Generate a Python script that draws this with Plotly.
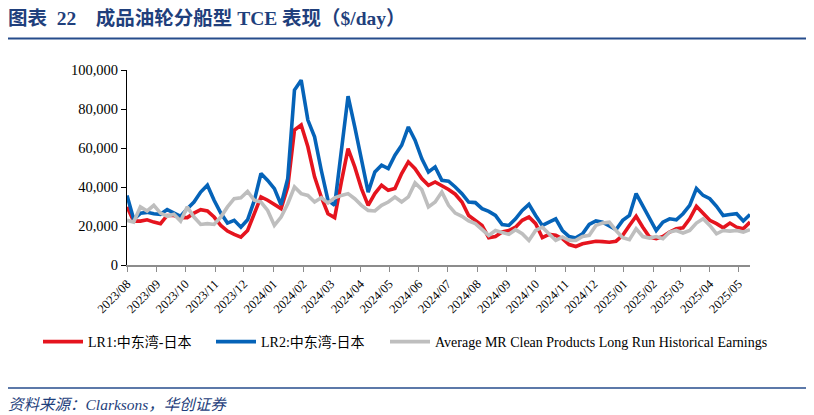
import pandas as pd
import plotly.graph_objects as go

# weekly TCE, $/day (thousands)
dates = pd.date_range("2023-08-01", periods=94, freq="7D")

lr1 = [29.8, 22.5, 22.5, 23.2, 22, 21.2, 25.4, 25.4, 24.3, 24.3, 26.6, 28.4, 27.7, 24.6, 20.3, 17.4,
       15.7, 14.3, 17.7, 26.3, 34.9, 33.2, 31.1,
       28.9, 40, 69.2, 71.8, 60.6, 45.2, 34.9, 26.3, 24.3, 42.6, 59.7, 50.3, 39.2, 30.6, 36.6, 40.9,
       38.3, 39.2, 46.9, 52.9, 49.4, 44.3, 40.9,
       42.6, 40.9, 38.7, 36.3, 32.3, 25.4, 22.9, 20.3, 14, 14.6, 16.9, 17.7, 19.4, 22.9, 24.6, 21.2,
       14, 15.7, 15.2, 13.5, 10.5, 9.5, 10.9, 11.7,
       12.2, 12, 11.7, 12.2, 15.2, 20.3, 25, 19.4, 14.3, 13.5, 14.6, 16.9, 18.6, 19.1, 23.7, 30.1,
       26.3, 22.9, 21.2, 19.1, 21.5, 19.4, 18.6, 22]

lr2 = [35.7, 23.5, 26.5, 27, 26.3, 26, 28.4, 26.6, 25, 28.9, 32.3, 37.4, 40.9, 33.2, 26.6, 21.5,
       22.9, 19.4, 23.2, 33, 46.9, 43.4, 39.2,
       30.9, 44.4, 89.7, 94.8, 74.3, 65.7, 48.6, 33.2, 30.6, 57.2, 86.6, 70.8, 53.7, 37.4, 47.7, 51.2,
       49.4, 56.3, 61.4, 70.8, 64, 54.6, 47.7,
       50.3, 43.4, 43, 40, 36.6, 32.3, 32, 28.9, 27.5, 25.4, 20.7, 20.3, 23.7, 28, 31.1, 25.4,
       20.3, 22, 23.7, 17.7, 14.6, 13.9, 16, 20.8,
       22.6, 22, 20.3, 18.1, 22.9, 25.4, 36.6, 30.6, 23.7, 17.7, 22, 23.7, 23.2, 26.3, 30.6, 39.2,
       35.7, 34, 30.1, 25.4, 25.9, 26.3, 22.6, 25.9]

avg_mr = [22.9, 22, 29.8, 27.7, 30.6, 26.6, 25, 26, 22.5, 29.8, 24.6, 20.8, 21.2, 20.8, 24.6, 29.8,
          34, 34.5, 37.7, 33.2, 32.3, 28, 20.3,
          24.6, 31.4, 40, 36.6, 35.7, 32.3, 34.5, 31.8, 34.5, 35.7, 36.6, 34, 30.6, 28, 27.7, 30.6,
          32.3, 34.9, 32.3, 34.9, 42.1, 38.7, 29.8,
          32.3, 37.4, 30.6, 26.6, 25, 22.6, 21.2, 18.1, 15.2, 17.7, 16.9, 15.7, 18.1, 16, 12.6, 17.7,
          19.4, 15.7, 12.6, 14.3, 12.6, 12.6, 14.6, 15.2,
          20.3, 21.5, 22, 17.7, 14, 13, 18.6, 14.6, 13.8, 14.6, 13.5, 16.9, 17.7, 16.4, 17.7, 21.5,
          23.7, 20.3, 16, 17.7, 17.4, 17.7, 16.9, 18.1]

names = ["LR1:中东湾-日本", "LR2:中东湾-日本",
         "Average MR Clean Products Long Run Historical Earnings"]
colors = ["#E5141E", "#0563B8", "#BEBEBE"]
y_ticks = [0, 20000, 40000, 60000, 80000, 100000]

FONT = "Liberation Serif, Noto Sans CJK SC, serif"
NAVY = "#1F3F7C"

# the page body adds an 8px offset, so the figure is 806x407 and all
# positions below are given in window pixels
OFF = 8


def px_x(p):
    # plot area: window x 127..750
    return (p - 127) / 623


def px_y(p):
    # plot area: window y 70..265
    return (265 - p) / 195


fig = go.Figure()
legend_ids = ["legend", "legend2", "legend3"]
for name, vals, col, lg in zip(names, [lr1, lr2, avg_mr], colors, legend_ids):
    fig.add_trace(go.Scatter(x=dates, y=[v * 1000 for v in vals], name=name, mode="lines",
                             line=dict(color=col, width=3.6), legend=lg))


def legend_at(px_left):
    return dict(orientation="h", x=px_x(px_left), xanchor="left",
                y=px_y(342), yanchor="middle", bgcolor="rgba(0,0,0,0)",
                font=dict(family=FONT, size=14), itemwidth=40)


fig.update_layout(
    width=814 - OFF, height=415 - OFF,
    margin=dict(l=127 - OFF, r=64, t=70 - OFF, b=150, autoexpand=False),
    paper_bgcolor="white", plot_bgcolor="white",
    font=dict(family=FONT, size=13, color="black"),
    showlegend=True,
    legend=legend_at(38),
    legend2=legend_at(211),
    legend3=legend_at(385),
    title=dict(text="<b>图表\u00a0\u00a022\u00a0\u00a0\u00a0\u00a0成品油轮分船型 TCE 表现（$/day）</b>",
               xref="container", yref="container", x=0, xanchor="left",
               y=1 - (18 - OFF) / (415 - OFF), yanchor="middle",
               font=dict(family=FONT, size=19.5, color=NAVY)),
)

fig.update_xaxes(
    type="date", range=[dates[0], dates[-1]], automargin=False,
    tick0="2023-08-01", dtick="M1", tickformat="%Y/%m", tickangle=-45,
    showgrid=False, zeroline=False,
    showline=True, linecolor="#8C8C8C", linewidth=1.5,
    ticks="outside", ticklen=5, tickcolor="#8C8C8C",
    tickfont=dict(family=FONT, size=12.5),
)
fig.update_yaxes(
    range=[0, 100000], tickvals=y_ticks, tickformat=",", automargin=False,
    showgrid=False, zeroline=False,
    showline=True, linecolor="black", linewidth=1,
    ticks="outside", ticklen=5, tickcolor="black",
    tickfont=dict(family=FONT, size=14.5),
)

fig.add_shape(type="line", xref="paper", yref="paper",
              x0=px_x(5), x1=px_x(808), y0=px_y(38.5), y1=px_y(38.5),
              line=dict(color="#264C8C", width=2.2))
fig.add_shape(type="line", xref="paper", yref="paper",
              x0=px_x(5), x1=px_x(808), y0=px_y(388), y1=px_y(388),
              line=dict(color="#264C8C", width=1.5))
fig.add_annotation(text="<i>资料来源：Clarksons，华创证券</i>", xref="paper", yref="paper",
                   x=px_x(6), y=px_y(404), xanchor="left", yanchor="middle", showarrow=False,
                   font=dict(family=FONT, size=15.5, color=NAVY))

fig.write_html("out.html")
